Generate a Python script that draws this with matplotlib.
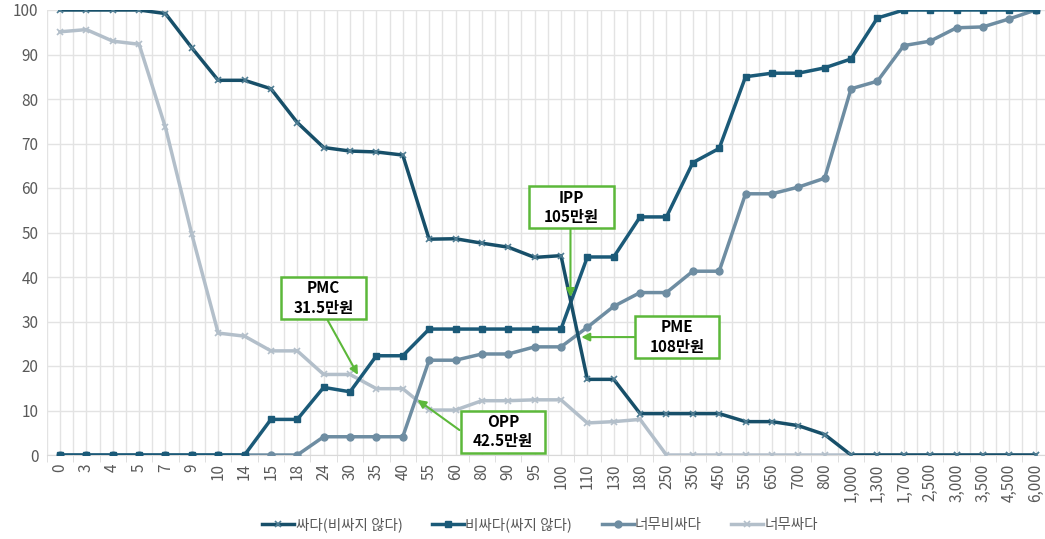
import numpy as np
import matplotlib.pyplot as plt
from matplotlib.patches import Rectangle
from matplotlib.ticker import FixedLocator

plt.rcParams['font.family'] = ['Noto Sans CJK KR', 'DejaVu Sans']

prices = ['0', '3', '4', '5', '7', '9', '10', '14', '15', '18', '24', '30', '35', '40',
          '55', '60', '80', '90', '95', '100', '110', '130', '180', '250', '350', '450',
          '550', '650', '700', '800', '1,000', '1,300', '1,700', '2,500', '3,000',
          '3,500', '4,500', '6,000']

cheap = [100, 100, 100, 100, 99.2, 91.5, 84.2, 84.2, 82.3, 74.7, 69.1, 68.3, 68.1, 67.4,
         48.5, 48.6, 47.6, 46.7, 44.4, 44.8, 17, 17, 9.3, 9.3, 9.3, 9.3,
         7.5, 7.5, 6.6, 4.6, 0, 0, 0, 0, 0, 0, 0, 0]
expensive = [0, 0, 0, 0, 0, 0, 0, 0, 8, 8, 15.2, 14.2, 22.3, 22.3,
             28.3, 28.3, 28.3, 28.3, 28.3, 28.3, 44.5, 44.5, 53.5, 53.5, 65.7, 68.9,
             85, 85.8, 85.8, 87, 89, 98.2, 100, 100, 100, 100, 100, 100]
too_expensive = [0, 0, 0, 0, 0, 0, 0, 0, 0, 0, 4.1, 4.1, 4.1, 4.1,
                 21.3, 21.3, 22.7, 22.7, 24.3, 24.3, 28.7, 33.4, 36.5, 36.5, 41.3, 41.3,
                 58.7, 58.7, 60.2, 62.2, 82.3, 84, 92, 93, 96, 96.2, 98, 100]
too_cheap = [95.1, 95.6, 93, 92.3, 73.6, 49.6, 27.4, 26.7, 23.4, 23.4, 18.1, 18.1, 14.9, 14.9,
             10.1, 10.1, 12.2, 12.2, 12.4, 12.4, 7.2, 7.5, 8, 0, 0, 0,
             0, 0, 0, 0, 0, 0, 0, 0, 0, 0, 0, 0]

labels = ['싸다(비싸지 않다)', '비싸다(싸지 않다)', '너무비싸다', '너무싸다']

# annotation: text, box centre, arrow start, arrow tip  (category index, value)
notes = [('PMC\n31.5만원', (10.0, 35.3), (10.15, 30.3), (11.3, 18.0)),
         ('IPP\n105만원', (19.4, 55.7), (19.36, 51.0), (19.36, 35.5)),
         ('PME\n108만원', (23.4, 26.5), (21.78, 26.5), (19.77, 26.5)),
         ('OPP\n42.5만원', (16.8, 5.2), (15.15, 5.6), (13.56, 12.4))]
box_w, box_h = 3.2, 9.4

x = np.arange(len(prices))

fig = plt.figure(figsize=(10.45, 5.39), dpi=100)
ax = fig.add_axes([46.8 / 1045, 1 - 455 / 539, 1002 / 1045, 445 / 539])

ax.plot(x, too_cheap, color='#b3bfca', lw=2.5, marker='x', ms=5, mew=1.2, label=labels[3], zorder=3)
ax.plot(x, too_expensive, color='#6e8da2', lw=2.5, marker='o', ms=5, label=labels[2], zorder=4)
ax.plot(x, expensive, color='#1b5a78', lw=2.5, marker='s', ms=5, label=labels[1], zorder=5)
ax.plot(x, cheap, color='#174f69', lw=2.5, marker='x', ms=5, mew=1.2, mec='#4f7d93', label=labels[0], zorder=6)

ax.set_xlim(-0.5, len(prices) - 0.5)
ax.set_ylim(0, 100)
ax.set_yticks(range(0, 101, 10))
ax.set_xticks(x)
ax.set_xticklabels(prices, rotation=90)
ax.xaxis.set_minor_locator(FixedLocator(np.arange(-0.5, len(prices), 1)))

ax.grid(True, which='both', axis='x', color='#e3e3e3', lw=1)
ax.grid(True, which='major', axis='y', color='#e3e3e3', lw=1)
ax.tick_params(axis='both', which='major', length=0, labelsize=11, colors='#595959', pad=6)
ax.tick_params(axis='x', which='minor', length=5, color='#d9d9d9')
for s in ['top', 'right', 'left']:
    ax.spines[s].set_visible(False)
ax.spines['bottom'].set_color('#d9d9d9')
ax.set_axisbelow(True)

for text, c, start, tip in notes:
    ax.add_patch(Rectangle((c[0] - box_w / 2, c[1] - box_h / 2), box_w, box_h, fc='white',
                           ec='#5cb83a', lw=1.8, zorder=10, clip_on=False))
    ax.text(c[0], c[1], text, ha='center', va='center', fontsize=11, fontweight='bold',
            color='black', zorder=11, linespacing=1.25)
    ax.annotate('', xy=tip, xytext=start, zorder=9,
                arrowprops=dict(arrowstyle='-|>', color='#5cb83a', lw=1.5, mutation_scale=12,
                                shrinkA=0, shrinkB=0))

handles, labs = ax.get_legend_handles_labels()
order = [3, 2, 1, 0]
fig.legend([handles[i] for i in order], [labs[i] for i in order], loc='center',
           bbox_to_anchor=(0.517, 0.027), ncol=4, frameon=False, fontsize=10.5,
           handlelength=2.2, handletextpad=0.1, columnspacing=2.0, labelcolor='#595959')

fig.savefig('out.png', dpi=100)
